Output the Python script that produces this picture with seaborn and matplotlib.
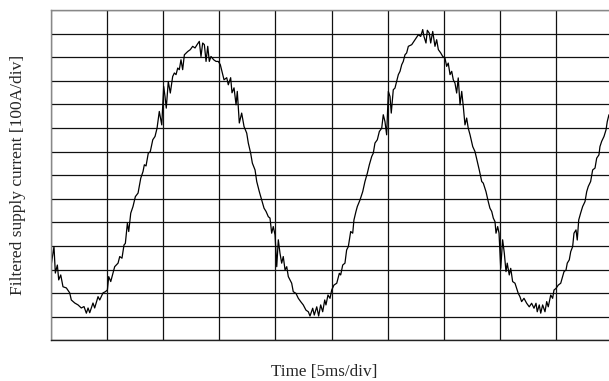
import numpy as np
import pandas as pd
import matplotlib
matplotlib.use("Agg")
import matplotlib.pyplot as plt
import seaborn as sns

# time axis [ms] and filtered supply current [A]
time_ms = [
    0.00, 0.29, 0.41, 0.59, 0.71, 0.89, 1.09, 1.39, 1.69, 1.83, 2.14, 2.43, 2.72, 2.96,
    3.17, 3.32, 3.47, 3.76, 3.91, 4.21, 4.36, 4.65, 4.86, 5.04, 5.16, 5.34, 5.54, 5.69,
    5.99, 6.14, 6.34, 6.52, 6.64, 6.82, 6.94, 7.12, 7.32, 7.53, 7.77, 8.01, 8.21, 8.33,
    8.48, 8.68, 8.86, 9.08, 9.28, 9.46, 9.66, 9.88, 10.05, 10.17, 10.28, 10.46, 10.64,
    10.85, 11.00, 11.15, 11.30, 11.44, 11.59, 11.74, 11.89, 12.19, 12.42, 12.63, 12.84,
    13.02, 13.22, 13.37, 13.52, 13.67, 13.82, 13.97, 14.11, 14.26, 14.50, 14.71, 14.91,
    15.09, 15.42, 15.66, 15.80, 16.01, 16.13, 16.31, 16.49, 16.60, 16.78, 16.99, 17.20,
    17.44, 17.58, 17.79, 17.94, 18.18, 18.33, 18.56, 18.77, 18.98, 19.16, 19.36, 19.51,
    19.66, 19.80, 19.96, 20.11, 20.25, 20.40, 20.55, 20.69, 20.85, 21.00, 21.14, 21.29,
    21.44, 21.58, 21.82, 22.03, 22.24, 22.47, 22.71, 22.92, 23.07, 23.31, 23.45, 23.67,
    23.84, 24.02, 24.20, 24.38, 24.49, 24.67, 24.85, 25.00, 25.20, 25.45, 25.68, 25.80,
    25.98, 26.18, 26.33, 26.48, 26.69, 26.87, 26.98, 27.16, 27.28, 27.52, 27.76, 27.96,
    28.17, 28.35, 28.56, 28.70, 28.85, 29.06, 29.24, 29.45, 29.59, 29.74, 29.89, 30.04,
    30.19, 30.30, 30.48, 30.63, 30.78, 30.93, 31.08, 31.23, 31.37, 31.52, 31.67, 31.82,
    32.12, 32.41, 32.71, 32.92, 33.10, 33.21, 33.39, 33.51, 33.68, 33.81, 33.99, 34.19,
    34.34, 34.49, 34.70, 34.88, 35.08, 35.23, 35.37, 35.53, 35.68, 35.82, 35.97, 36.12,
    36.26, 36.42, 36.57, 36.71, 36.86, 37.01, 37.15, 37.31, 37.55, 37.75, 37.96, 38.13,
    38.35, 38.49, 38.73, 38.93, 39.08, 39.24, 39.38, 39.53, 39.62, 39.77, 39.89, 40.04,
    40.21, 40.36, 40.51, 40.62, 40.80, 40.93, 41.10, 41.31, 41.46, 41.60, 41.75, 41.90,
    42.11, 42.35, 42.58, 42.79, 43.00, 43.18, 43.29, 43.47, 43.60, 43.77, 43.98, 44.13,
    44.27, 44.49, 44.66, 44.78, 44.96, 45.16, 45.38, 45.55, 45.67, 45.85, 45.96, 46.14,
    46.27, 46.44, 46.56, 46.74, 46.85, 46.98, 47.15, 47.33, 47.54, 47.69, 47.83, 48.04,
    48.22, 48.43, 48.58, 48.78, 48.87, 49.02, 49.23, 49.41, 49.52, 49.67,
]
current_a = [
    -393, -303, -415, -381, -444, -423, -473, -478, -499, -529, -542, -550, -563, -557,
    -585, -563, -583, -542, -563, -515, -529, -499, -494, -487, -430, -451, -416, -388,
    -373, -345, -352, -296, -289, -204, -239, -161, -133, -91, -76, -13, 15, 44,
    39, 93, 100, 150, 164, 199, 270, 213, 376, 333, 284, 397, 348,
    418, 433, 426, 454, 447, 489, 447, 510, 524, 532, 546, 539,
    553, 567, 503, 560, 553, 482, 546, 482, 503, 489, 482, 482,
    468, 404, 413, 383, 413, 349, 370, 298, 355, 221, 263, 206,
    178, 136, 93, 51, 22, -27, -70, -105, -140, -154, -176, -182,
    -246, -218, -253, -388, -274, -331, -373, -345, -402, -388, -430, -444,
    -458, -494, -501, -522, -536, -550, -572, -579, -597, -564, -593, -558,
    -597, -550, -579, -529, -550, -508, -522, -487, -466, -458, -416, -423,
    -381, -373, -317, -303, -239, -246, -190, -154, -133, -105, -70, -27,
    8, 44, 79, 93, 136, 150, 185, 199, 256, 227, 171, 355,
    333, 263, 362, 369, 397, 426, 440, 468, 482, 510, 518, 546,
    553, 574, 595, 588, 617, 588, 560, 614, 602, 560, 609, 546,
    574, 532, 518, 503, 496, 461, 475, 426, 440, 404, 390, 348,
    412, 298, 355, 291, 213, 242, 199, 171, 121, 100, 58, 22,
    -27, -34, -70, -112, -140, -154, -182, -197, -246, -218, -246, -395,
    -274, -331, -409, -373, -423, -395, -451, -458, -480, -501, -515, -536,
    -522, -543, -558, -543, -564, -543, -579, -550, -585, -550, -579, -536,
    -558, -508, -522, -487, -480, -466, -458, -430, -409, -402, -373, -359,
    -324, -303, -246, -232, -275, -190, -161, -133, -112, -70, -48, -27,
    22, 30, 72, 86, 121, 143, 164, 192, 227, 256,
]

x_ticks_ms = np.arange(0, 55, 5)       # 5 ms/div
y_ticks_a = np.arange(-700, 800, 100)  # 100 A/div

data = pd.DataFrame({"t": time_ms, "i": current_a})

sns.set_style("white")
plt.rcParams['font.family'] = ['Liberation Serif', 'DejaVu Serif']

fig = plt.figure(figsize=(6.09, 3.81), dpi=100)
ax = fig.add_axes([0.0833, 0.1068, 0.9227, 0.867])

sns.lineplot(data=data, x="t", y="i", color="black", linewidth=0.9,
             sort=False, estimator=None, ax=ax)

ax.set_xlim(0, 50)
ax.set_ylim(-700, 700)
ax.set_xticks(x_ticks_ms)
ax.set_yticks(y_ticks_a)
ax.set_xticklabels([])
ax.set_yticklabels([])
ax.tick_params(length=0)
ax.grid(True, color="#111111", linewidth=0.9)
ax.set_axisbelow(True)

for side in ["top", "left", "right"]:
    ax.spines[side].set_color("#888888")
    ax.spines[side].set_linewidth(1.0)
ax.spines["bottom"].set_color("#222222")
ax.spines["bottom"].set_linewidth(1.0)

ax.set_xlabel("Time [5ms/div]", fontsize=12.3)
ax.set_ylabel("Filtered supply current [100A/div]", fontsize=12.5)
ax.xaxis.set_label_coords(0.487, -0.072)
ax.yaxis.set_label_coords(-0.044, 0.5)

fig.savefig("out.png", dpi=100)
